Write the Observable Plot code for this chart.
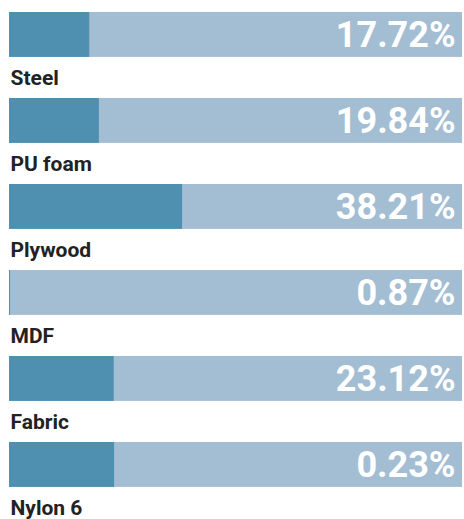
<!DOCTYPE html>
<html>
<head>
<meta charset="utf-8">
<script src="https://cdn.jsdelivr.net/npm/d3@7"></script>
<script src="https://cdn.jsdelivr.net/npm/@observablehq/plot@0.6"></script>
<style>
  html, body { margin: 0; padding: 0; background: #fff; }
  #chart svg { display: block; }
</style>
</head>
<body>
<div id="chart"></div>
<script>
const materials = ["Steel", "PU foam", "Plywood", "MDF", "Fabric", "Nylon 6"];
const shareLabels = [17.72, 19.84, 38.21, 0.87, 23.12, 0.23];
const barShares = [17.72, 19.84, 38.21, 0.23, 23.12, 23.2];

const rows = materials.map((m, i) => ({material: m, label: shareLabels[i], bar: barShares[i]}));

const W = 464, H = 519;
const top0 = 10, step = 86.6, barH = 45.5;

const chart = Plot.plot({
  width: W,
  height: H,
  margin: 0,
  style: {background: "#fff", fontFamily: "Roboto, sans-serif"},
  x: {domain: [0, 100], range: [9, 462], axis: null},
  y: {domain: materials, range: [top0, top0 + step * materials.length], padding: 0, axis: null},
  marks: [
    Plot.barX(rows, {x1: 0, x2: 100, y: "material", fill: "#a3bdd3", insetBottom: step - barH}),
    Plot.barX(rows, {x1: 0, x2: "bar", y: "material", fill: "#4f90b0", insetBottom: step - barH}),
    Plot.text(rows, {
      x: 100, y: "material", text: d => d.label.toFixed(2) + "%",
      textAnchor: "end", lineAnchor: "bottom", dx: -7, dy: 35 - step / 2,
      fill: "#ffffff", fontSize: 36, fontWeight: 700
    }),
    Plot.text(rows, {
      x: 0, y: "material", text: "material",
      textAnchor: "start", lineAnchor: "bottom", dx: 1, dy: 72.5 - step / 2,
      fill: "#222222", fontSize: 21, fontWeight: 700
    })
  ]
});
document.getElementById("chart").appendChild(chart);
</script>
</body>
</html>
